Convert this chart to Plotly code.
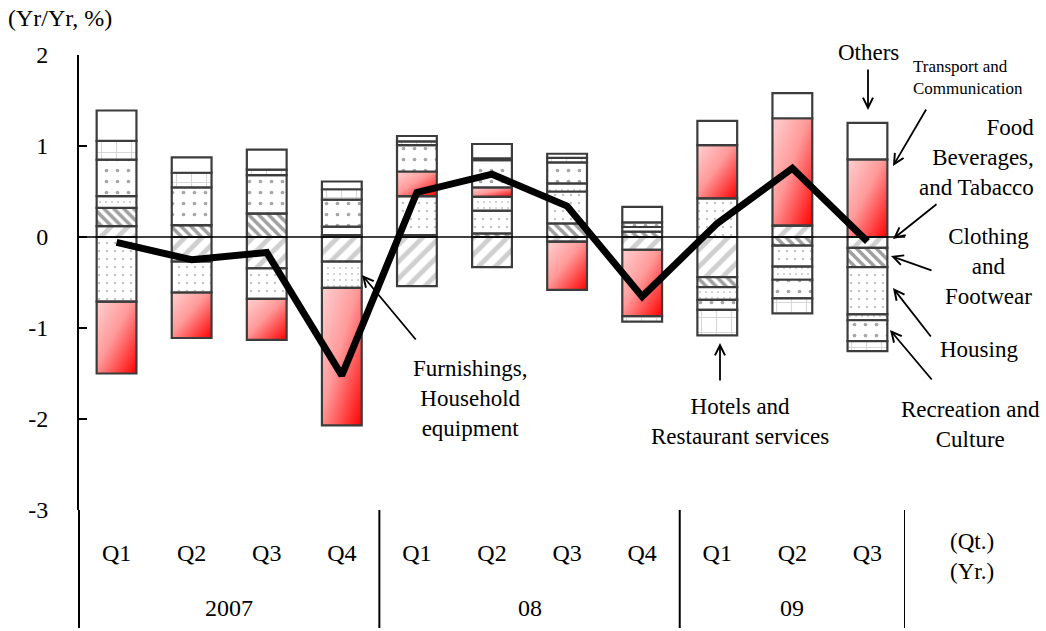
import base64
import plotly.graph_objects as go

# ---- data: contributions to the year-on-year change (percentage points) ----
years = ["2007"] * 4 + ["08"] * 4 + ["09"] * 3
quarters = ["Q1", "Q2", "Q3", "Q4", "Q1", "Q2", "Q3", "Q4", "Q1", "Q2", "Q3"]

food = [0.12, -0.27, -0.345, -0.27, -0.54, -0.33, -0.05, -0.14, -0.44, 0.125, -0.12]
clothing = [0.20, 0.13, 0.26, 0.02, 0.02, 0.04, 0.15, 0.06, -0.11, -0.095, -0.21]
housing = [-0.71, -0.34, -0.335, 0.095, 0.43, 0.25, 0.35, 0.05, 0.425, -0.23, -0.52]
furnishings = [0.13, 0.0, 0.0, -0.29, 0.0, 0.15, 0.09, 0.0, -0.14, -0.145, -0.065]
transport = [-0.79, -0.50, -0.45, -1.51, 0.27, 0.105, -0.53, -0.73, 0.585, 1.18, 0.854]
recreation = [0.40, 0.416, 0.42, 0.295, 0.29, 0.30, 0.23, 0.05, -0.11, -0.205, -0.23]
hotels = [0.206, 0.16, 0.06, 0.115, 0.04, 0.02, 0.05, -0.06, -0.28, -0.165, -0.11]
others = [0.334, 0.17, 0.22, 0.085, 0.06, 0.157, 0.045, 0.17, 0.267, 0.275, 0.40]
total = [-0.06, -0.25, -0.17, -1.52, 0.49, 0.69, 0.34, -0.655, 0.15, 0.755, -0.05]

y_ticks = [-3, -2, -1, 0, 1, 2]

FONT = "Liberation Serif"
OUTLINE = "#3c3c3c"
BAR_W = 0.53

# plot-area geometry in pixels (used for placing callouts)
W, H = 1046, 631
L, R, T, B = 79, 905, 55, 510
AXIS_BOTTOM = 628


def pp(x, y):
    return (x - L) / (R - L), (B - y) / (B - T)


xpos = list(range(len(quarters)))

series = [
    ("Food, Beverages, and Tabacco", food, dict(shape="/", fgcolor="#a0a0a0", bgcolor="white", size=12, solidity=0.4)),
    ("Clothing and Footwear", clothing, dict(shape="\\", fgcolor="#404040", bgcolor="white", size=7, solidity=0.5)),
    ("Housing", housing, dict(shape=".", fgcolor="#8a8a8a", bgcolor="white", size=8, solidity=0.08)),
    ("Furnishings, Household equipment", furnishings, dict(shape=".", fgcolor="#8a8a8a", bgcolor="white", size=6, solidity=0.09)),
    ("Transport and Communication", transport, None),
    ("Recreation and Culture", recreation, dict(shape=".", fgcolor="#505050", bgcolor="white", size=11, solidity=0.09)),
    ("Hotels and Restaurant services", hotels, dict(shape="+", fgcolor="#b0b0b0", bgcolor="white", size=15, solidity=0.14)),
    ("Others", others, None),
]

fig = go.Figure()
for name, vals, pat in series:
    if name == "Transport and Communication":
        marker = dict(color="rgba(0,0,0,0)", line=dict(color=OUTLINE, width=2.2))
    elif pat is None:
        marker = dict(color="white", line=dict(color=OUTLINE, width=2.2))
    else:
        marker = dict(color="white", pattern=pat, line=dict(color=OUTLINE, width=2.2))
    fig.add_trace(go.Bar(x=xpos, y=vals, name=name, width=BAR_W, marker=marker,
                         showlegend=False, hoverinfo="skip"))

fig.add_trace(go.Scatter(x=xpos, y=total, mode="lines",
                         line=dict(color="black", width=7), showlegend=False))

# ---- diagonal red gradient behind the transport segments ----
svg = ("<svg xmlns='http://www.w3.org/2000/svg' width='40' height='100' viewBox='0 0 40 100' "
       "preserveAspectRatio='none'><defs><linearGradient id='g' x1='0' y1='0' x2='1' y2='1'>"
       "<stop offset='0' stop-color='#ffd0d0'/><stop offset='0.45' stop-color='#ff9a9a'/>"
       "<stop offset='1' stop-color='#ff0000'/></linearGradient></defs>"
       "<rect width='40' height='100' fill='url(#g)'/></svg>")
svg_uri = "data:image/svg+xml;base64," + base64.b64encode(svg.encode()).decode()

order = [s[1] for s in series]
t_idx = 4
images = []
for i in xpos:
    v = transport[i]
    if v == 0:
        continue
    if v > 0:
        top = sum(s[i] for s in order[:t_idx] if s[i] > 0) + v
    else:
        top = sum(s[i] for s in order[:t_idx] if s[i] < 0)
    images.append(dict(source=svg_uri, xref="x", yref="y", x=i - BAR_W / 2, y=top,
                       sizex=BAR_W, sizey=abs(v), xanchor="left", yanchor="top",
                       sizing="stretch", layer="below"))

annotations = []
shapes = []


def label(text, x, y, size=23, align="center", xanchor="center"):
    px, py = pp(x, y)
    annotations.append(dict(text=text, x=px, y=py, xref="paper", yref="paper", showarrow=False,
                            font=dict(family=FONT, size=size, color="black"), align=align,
                            xanchor=xanchor, yanchor="middle"))


def arrow(tail, tip):
    px, py = pp(*tip)
    annotations.append(dict(text="", x=px, y=py, xref="paper", yref="paper", showarrow=True,
                            ax=tail[0] - tip[0], ay=tail[1] - tip[1], arrowhead=5,
                            arrowsize=1.1, arrowwidth=1.8, arrowcolor="black"))


# year labels centred under their quarters, with dividers between the years
groups = []
for i, yr in enumerate(years):
    if not groups or groups[-1][0] != yr:
        groups.append([yr, i, i])
    else:
        groups[-1][2] = i
y_bottom = pp(0, AXIS_BOTTOM)[1]
for yr, first, last in groups:
    annotations.append(dict(text=yr, x=(first + last) / 2, xref="x", y=pp(0, 608)[1], yref="paper",
                            showarrow=False, yanchor="middle",
                            font=dict(family=FONT, size=24, color="black")))
    shapes.append(dict(type="line", xref="x", yref="paper", x0=last + 0.5, x1=last + 0.5,
                       y0=0, y1=y_bottom, line=dict(color="black", width=2)))
# the value axis continues down through the category labels
shapes.append(dict(type="line", xref="paper", yref="paper", x0=0, x1=0, y0=0, y1=y_bottom,
                   line=dict(color="black", width=2)))
# zero line across the bars
shapes.append(dict(type="line", xref="paper", yref="y", x0=0, x1=1, y0=0, y1=0,
                   line=dict(color="black", width=1.6), layer="above"))

label("(Yr/Yr, %)", 6, 18, size=24, xanchor="left", align="left")
label("Others", 868, 52)
arrow((868, 68), (868, 110))
label("Transport and<br>Communication", 911, 77, size=17, xanchor="left", align="left")
arrow((927, 108), (893, 166))
label("Food<br>Beverages,<br>and Tabacco", 1036, 157, xanchor="right", align="right")
arrow((938, 203), (893, 239))
label("Clothing<br>and<br>Footwear", 988, 266)
arrow((933, 271), (891, 256))
label("Housing", 979, 350)
arrow((932, 338), (893, 288))
label("Recreation and<br>Culture", 970, 424)
arrow((933, 381), (890, 330))
label("Furnishings,<br>Household<br>equipment", 470, 398)
arrow((417, 341), (362, 275))
label("Hotels and<br>Restaurant services", 740, 421)
arrow((720, 382), (720, 343))
label("(Qt.)<br>(Yr.)", 972, 556, size=23)

fig.update_layout(
    width=W, height=H,
    margin=dict(l=L, r=W - R, t=T, b=H - B),
    barmode="relative",
    paper_bgcolor="white",
    plot_bgcolor="rgba(0,0,0,0)",
    font=dict(family=FONT, size=24, color="black"),
    images=images,
    annotations=annotations,
    shapes=shapes,
    xaxis=dict(range=[-0.5, len(quarters) - 0.5], tickvals=xpos, ticktext=quarters,
               showgrid=False, zeroline=False, showline=False, ticks="",
               ticklabelstandoff=26, tickfont=dict(family=FONT, size=24, color="black")),
    yaxis=dict(range=[-3, 2], tickvals=y_ticks, ticktext=[str(v) for v in y_ticks],
               showgrid=False, zeroline=False, showline=True, linecolor="black", linewidth=2,
               ticks="inside", ticklen=8, tickwidth=2, tickcolor="black",
               ticklabelstandoff=24, tickfont=dict(family=FONT, size=24, color="black")),
)

fig.write_html("out.html")
